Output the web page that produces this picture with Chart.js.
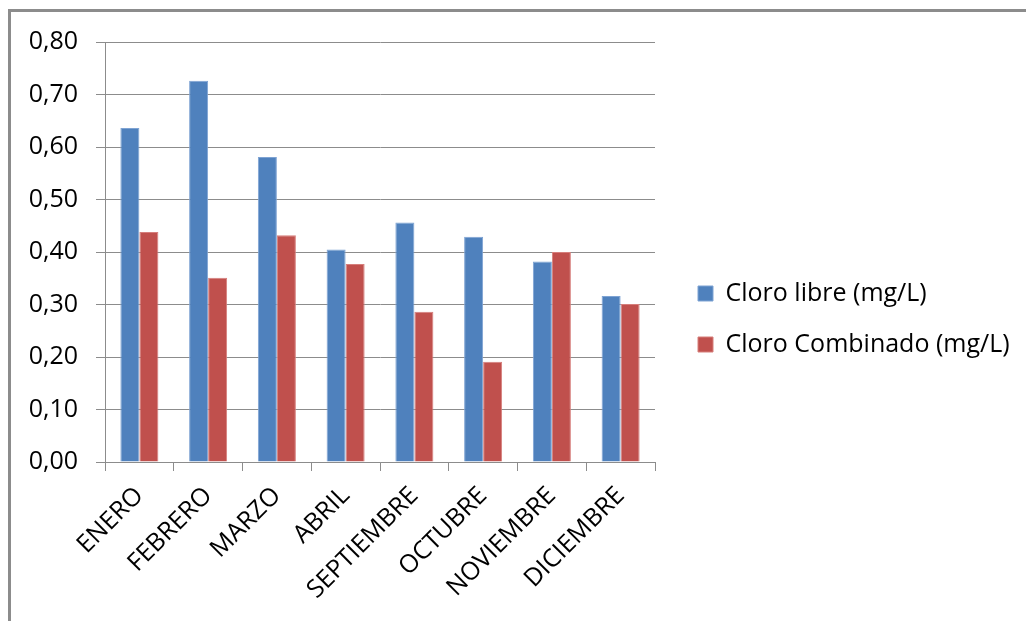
<!DOCTYPE html>
<html lang="es">
<head>
<meta charset="utf-8">
<title>Cloro libre y combinado por mes</title>
<script src="https://cdn.jsdelivr.net/npm/chart.js@4.4.1/dist/chart.umd.min.js"></script>
<style>
  html, body { margin: 0; padding: 0; background: #ffffff; overflow: hidden; }
  #wrap { position: relative; width: 1026px; height: 621px; }
  #frame {
    position: absolute; left: 8px; top: 9px; width: 1100px; height: 700px;
    border-top: 3px solid #8c8c8c; border-left: 3px solid #8c8c8c;
  }
  #chart { position: absolute; left: 0; top: 0; }
</style>
</head>
<body>
<div id="wrap">
  <div id="frame"></div>
  <canvas id="chart" width="1026" height="621"></canvas>
</div>
<script>
// Meses muestreados
const meses = ['ENERO', 'FEBRERO', 'MARZO', 'ABRIL', 'SEPTIEMBRE', 'OCTUBRE', 'NOVIEMBRE', 'DICIEMBRE'];

// Concentraciones medias (mg/L)
const cloroLibre     = [0.636, 0.726, 0.581, 0.405, 0.456, 0.429, 0.382, 0.316];
const cloroCombinado = [0.438, 0.351, 0.432, 0.377, 0.286, 0.191, 0.400, 0.301];

const nombresSeries = ['Cloro libre (mg/L)', 'Cloro Combinado (mg/L)'];

// Eje vertical: 0,00 a 0,80 cada 0,10
const ejeMin = 0;
const ejeMax = 0.8;
const ejePaso = 0.1;

const FONT = "'Open Sans', 'Noto Sans', sans-serif";
const FONT_SIZE = 25;
const GRID = '#8c8c8c';

// Coloca la leyenda a la derecha, a media altura del gráfico
const leyendaFija = {
  id: 'leyendaFija',
  afterLayout(chart) {
    const lg = chart.legend;
    if (!lg) return;
    lg.left = 672;
    lg.right = 1026;
    lg.width = lg.right - lg.left;
    lg.top = 255;
    lg.bottom = 621;
    lg.height = lg.bottom - lg.top;
  }
};

new Chart(document.getElementById('chart'), {
  type: 'bar',
  data: {
    labels: meses,
    datasets: [
      {
        label: nombresSeries[0],
        data: cloroLibre,
        backgroundColor: '#4f81bd',
        borderColor: '#7ea3d3',
        borderWidth: 1
      },
      {
        label: nombresSeries[1],
        data: cloroCombinado,
        backgroundColor: '#c0504d',
        borderColor: '#d67e7b',
        borderWidth: 1
      }
    ]
  },
  options: {
    responsive: false,
    animation: false,
    devicePixelRatio: 1,
    layout: { padding: { left: 0, top: 42, right: 153, bottom: 0 } },
    datasets: {
      bar: { categoryPercentage: 0.553, barPercentage: 1.0 }
    },
    plugins: {
      tooltip: { enabled: false },
      legend: {
        position: 'right',
        align: 'start',
        maxWidth: 218,
        labels: {
          boxWidth: 15,
          boxHeight: 15,
          padding: 26,
          color: '#000000',
          font: { family: FONT, size: FONT_SIZE }
        }
      }
    },
    scales: {
      x: {
        grid: {
          offset: true,
          drawOnChartArea: false,
          drawTicks: true,
          tickLength: 9,
          color: GRID
        },
        border: { display: true, color: GRID, width: 1 },
        ticks: {
          minRotation: 45,
          maxRotation: 45,
          autoSkip: false,
          padding: 10,
          labelOffset: 0,
          color: '#000000',
          font: { family: FONT, size: FONT_SIZE }
        },
        afterFit(scale) { scale.height = 159; }
      },
      y: {
        min: ejeMin,
        max: ejeMax,
        grid: {
          color: GRID,
          lineWidth: 1,
          drawTicks: true,
          tickLength: 9
        },
        border: { display: true, color: GRID, width: 1 },
        ticks: {
          stepSize: ejePaso,
          padding: 18,
          color: '#000000',
          font: { family: FONT, size: FONT_SIZE },
          callback: (v) => Number(v).toFixed(2).replace('.', ',')
        },
        afterFit(scale) { scale.width = 105; }
      }
    }
  },
  plugins: [leyendaFija]
});
</script>
</body>
</html>
